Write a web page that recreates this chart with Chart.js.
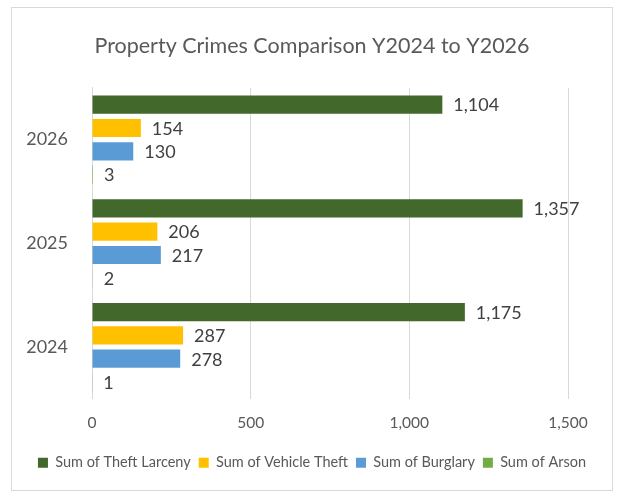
<!DOCTYPE html>
<html>
<head>
<meta charset="utf-8">
<script src="https://cdn.jsdelivr.net/npm/chart.js@4"></script>
<style>
  body { margin: 0; background: #fff; }
  #box {
    position: absolute; left: 11px; top: 7px;
    width: 600px; height: 482px;
    border: 1px solid #d9d9d9;
  }
</style>
</head>
<body>
<div id="box"><canvas id="crimes-chart" width="600" height="482"></canvas></div>
<script>
const years = ["2026", "2025", "2024"];
const theftLarceny = [1104, 1357, 1175];
const vehicleTheft = [154, 206, 287];
const burglary = [130, 217, 278];
const arson = [3, 2, 1];
const xTicks = [0, 500, 1000, 1500];

const crimesChart = document.querySelector("canvas#crimes-chart");
const font = "Lato, 'Open Sans', sans-serif";

// numbers drawn to the right of each bar
const barLabels = {
    id: "barLabels",
    afterDatasetsDraw(chart) {
        const ctx = chart.ctx;
        ctx.save();
        ctx.font = "18px " + font;
        ctx.fillStyle = "#404040";
        ctx.textBaseline = "middle";
        chart.data.datasets.forEach((ds, i) => {
            chart.getDatasetMeta(i).data.forEach((bar, j) => {
                ctx.fillText(ds.data[j].toLocaleString("en-US"), bar.x + 11, bar.y + 1);
            });
        });
        ctx.restore();
    },
};

const dataset = {
    labels: years,
    datasets: [
        { label: "Sum of Theft Larceny", data: theftLarceny, backgroundColor: "#43682b" },
        { label: "Sum of Vehicle Theft", data: vehicleTheft, backgroundColor: "#ffc000" },
        { label: "Sum of Burglary", data: burglary, backgroundColor: "#5b9bd5" },
        { label: "Sum of Arson", data: arson, backgroundColor: "#70ad47" },
    ],
};

const config = {
    type: "bar",
    data: dataset,
    options: {
        indexAxis: "y",
        responsive: false,
        animation: false,
        categoryPercentage: 0.9,
        barPercentage: 0.78,
        layout: {
            padding: { left: 0, right: 0, top: 0, bottom: 10 },
        },
        scales: {
            x: {
                min: 0,
                max: 1500,
                afterBuildTicks: (axis) => {
                    axis.ticks = xTicks.map((v) => ({ value: v }));
                },
                afterFit: (axis) => {
                    // keep room on the right like the original plot area
                    axis.paddingRight = 44;
                },
                grid: { color: "#d9d9d9", drawTicks: false },
                border: { display: false },
                ticks: {
                    padding: 15,
                    color: "#595959",
                    font: { family: font, size: 15.5 },
                    callback: (v) => v.toLocaleString("en-US"),
                },
            },
            y: {
                grid: { display: false },
                border: { color: "#d9d9d9" },
                afterFit: (axis) => {
                    axis.width = 80;
                },
                ticks: {
                    padding: 16,
                    color: "#595959",
                    font: { family: font, size: 18 },
                },
            },
        },
        plugins: {
            title: {
                display: true,
                text: "Property Crimes Comparison Y2024 to Y2026",
                color: "#595959",
                font: { family: font, size: 21.5, weight: "normal" },
                padding: { top: 25, bottom: 29 },
            },
            legend: {
                position: "bottom",
                labels: {
                    boxWidth: 10,
                    boxHeight: 10,
                    padding: 8,
                    color: "#595959",
                    font: { family: font, size: 14.5 },
                },
            },
            tooltip: { enabled: false },
        },
    },
    plugins: [barLabels],
};

new Chart(crimesChart, config);
</script>
</body>
</html>
